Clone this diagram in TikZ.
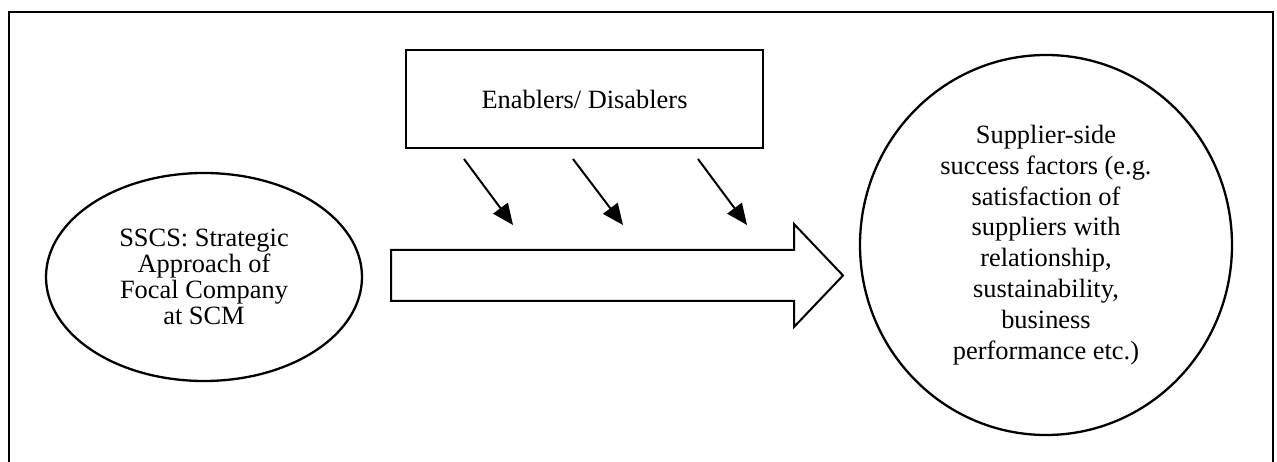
\documentclass[tikz,border=0pt]{standalone}
\usepackage{fontspec}
\setmainfont{Liberation Serif}
\usetikzlibrary{arrows.meta,shapes.geometric}
\begin{document}
\begin{tikzpicture}[x=1pt,y=-1pt,
  frame/.style={line width=2.6pt},
  boxnode/.style={draw,line width=2.5pt,minimum width=357pt,minimum height=98pt,inner sep=0pt},
  ovalnode/.style={draw,ellipse,line width=2.3pt,inner sep=0pt,align=center},
  influence/.style={line width=2pt,-{Triangle[length=21pt,width=18pt]}},
  flowarrow/.style={draw,line width=2pt,line join=miter},
  tighttext/.style={font=\fontsize{26.4pt}{26pt}\selectfont},
  looseText/.style={font=\fontsize{26.4pt}{30.8pt}\selectfont}
]
\useasboundingbox (0,0) rectangle (1277,462);

% outer frame, open at the bottom
\draw[frame] (9,462) -- (9,12) -- (1273,12) -- (1273,462);

% enablers / disablers box
\node[boxnode, tighttext] (enab) at (584.5,99) {Enablers/ Disablers};

% left ellipse: strategic approach
\node[ovalnode, tighttext, minimum width=316pt, minimum height=208pt] (ssc) at (204,277)
  {SSCS: Strategic\\Approach of\\Focal Company\\at SCM};

% right circle: supplier-side success factors
\node[ovalnode, looseText, minimum width=372pt, minimum height=380pt] (succ) at (1046,245)
  {Supplier-side\\success factors (e.g.\\satisfaction of\\suppliers with\\relationship,\\sustainability,\\business\\performance etc.)};

% broad block arrow between the two
\draw[flowarrow] (391,250) -- (794,250) -- (794,224) -- (843,275.5) -- (794,327) -- (794,301) -- (391,301) -- cycle;

% influence arrows from the enablers box
\coordinate (s1) at (464,159); \coordinate (e1) at (513,225);
\coordinate (s2) at (573,159); \coordinate (e2) at (623,225);
\coordinate (s3) at (698,159); \coordinate (e3) at (747,225);
\draw[influence] (s1) -- (e1);
\draw[influence] (s2) -- (e2);
\draw[influence] (s3) -- (e3);
\end{tikzpicture}
\end{document}
